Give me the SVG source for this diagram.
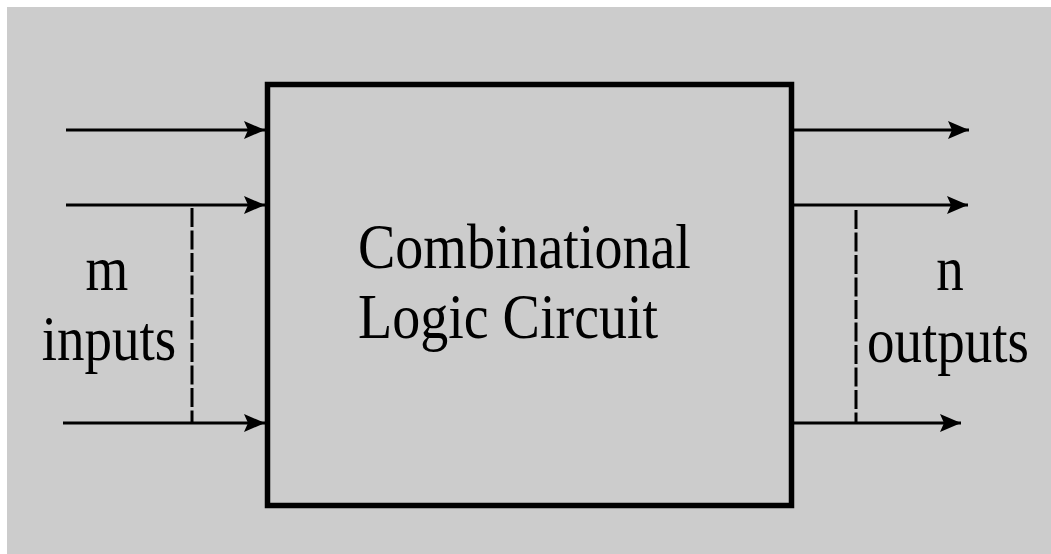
<svg xmlns="http://www.w3.org/2000/svg" width="1051" height="554" viewBox="0 0 1051 554">
<style>
.wire{stroke:#000;stroke-width:3;fill:none}
.dash{stroke:#000;stroke-width:3;stroke-dasharray:19,3.5;fill:none}
.lbl{font-family:"Liberation Serif","Times New Roman",serif;font-size:64px;fill:#000}
</style>
<defs>
<marker id="arr" viewBox="0 0 21 18" refX="21" refY="9" markerWidth="21" markerHeight="18" markerUnits="userSpaceOnUse" orient="auto">
<path d="M0,0 L21,9 L0,18 L4,9 Z" fill="#000"/>
</marker>
</defs>
<rect x="0" y="0" width="1051" height="554" fill="#ffffff"/>
<rect x="7" y="7" width="1044" height="547" fill="#cccccc"/>
<g id="connectors">
<line class="wire" x1="66" y1="130" x2="265" y2="130" marker-end="url(#arr)"/>
<line class="wire" x1="66" y1="205" x2="265" y2="205" marker-end="url(#arr)"/>
<line class="wire" x1="63" y1="423" x2="265" y2="423" marker-end="url(#arr)"/>
<line class="wire" x1="793" y1="130" x2="969" y2="130" marker-end="url(#arr)"/>
<line class="wire" x1="793" y1="205" x2="968" y2="205" marker-end="url(#arr)"/>
<line class="wire" x1="793" y1="423" x2="961" y2="423" marker-end="url(#arr)"/>
<line class="dash" x1="192" y1="208" x2="192" y2="422"/>
<line class="dash" x1="856" y1="210" x2="856" y2="422"/>
</g>
<g id="circuit">
<rect x="267.5" y="84.5" width="524" height="421" fill="none" stroke="#000" stroke-width="5.5"/>
<text class="lbl" transform="translate(358,268) scale(0.875,1)">Combinational</text>
<text class="lbl" transform="translate(358,338) scale(0.875,1)">Logic Circuit</text>
</g>
<g id="inputs-label">
<text class="lbl" text-anchor="middle" transform="translate(107,290) scale(0.86,1)">m</text>
<text class="lbl" text-anchor="middle" transform="translate(109,360) scale(0.86,1)">inputs</text>
</g>
<g id="outputs-label">
<text class="lbl" text-anchor="middle" transform="translate(950,290) scale(0.86,1)">n</text>
<text class="lbl" text-anchor="middle" transform="translate(948,362) scale(0.86,1)">outputs</text>
</g>
</svg>
